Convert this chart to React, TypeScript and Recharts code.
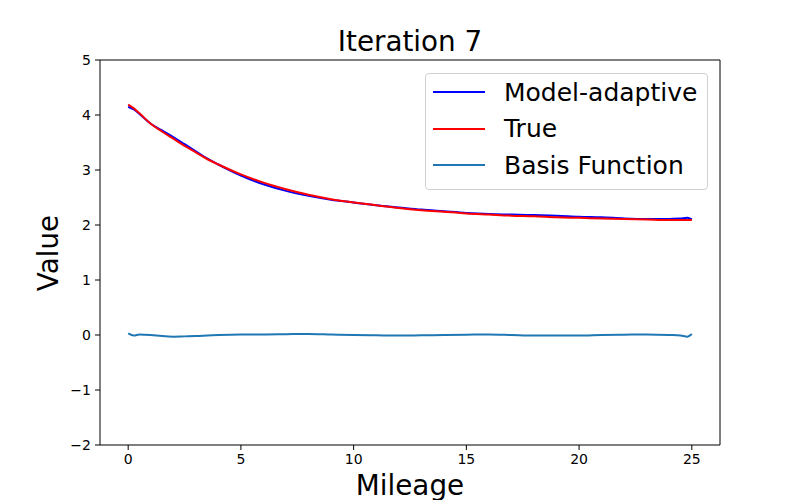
import React from 'react';
import { LineChart, Line, XAxis, YAxis, ReferenceLine, Legend } from 'recharts';

// mileage sample points
const mileage = [0, 0.25, 0.5, 1, 1.5, 2, 2.5, 3, 3.5, 4, 5, 6, 7, 8, 9, 10, 11, 12, 13, 14, 15, 16, 17, 18, 19, 20, 21, 22, 23, 24, 24.5, 24.8, 25];

const modelAdaptive = [4.15, 4.1, 4.02, 3.84, 3.72, 3.6, 3.47, 3.34, 3.21, 3.1, 2.9, 2.74, 2.62, 2.53, 2.46, 2.41, 2.36, 2.32, 2.28, 2.25, 2.22, 2.2, 2.19, 2.18, 2.17, 2.15, 2.14, 2.12, 2.11, 2.11, 2.12, 2.13, 2.1];
const trueValues = [4.19, 4.12, 4.03, 3.84, 3.7, 3.57, 3.44, 3.32, 3.2, 3.1, 2.92, 2.77, 2.65, 2.55, 2.47, 2.41, 2.36, 2.31, 2.27, 2.24, 2.21, 2.19, 2.17, 2.16, 2.14, 2.13, 2.12, 2.11, 2.1, 2.09, 2.09, 2.09, 2.09];
const basis = [0.03, -0.01, 0.01, 0.0, -0.02, -0.03, -0.025, -0.02, -0.01, 0.0, 0.01, 0.01, 0.015, 0.02, 0.01, 0.0, -0.005, -0.01, -0.005, 0.0, 0.005, 0.01, 0.0, -0.01, -0.01, -0.01, 0.0, 0.005, 0.01, 0.0, -0.01, -0.03, 0.02];

const xTicks = [0, 5, 10, 15, 20, 25];
const yTicks = [-2, -1, 0, 1, 2, 3, 4, 5];

const series = [
  { key: 'model', name: 'Model-adaptive', color: '#0000ff' },
  { key: 'truth', name: 'True', color: '#ff0000' },
  { key: 'basis', name: 'Basis Function', color: '#1f77b4' },
];

const data = mileage.map((m, i) => ({
  mileage: m,
  model: modelAdaptive[i],
  truth: trueValues[i],
  basis: basis[i],
}));

const font = '"DejaVu Sans", sans-serif';

const LegendBox = () => (
  <div
    style={{
      border: '1px solid #d0d0d0',
      borderRadius: 4,
      background: 'rgba(255,255,255,0.8)',
      width: 283,
      height: 117,
      boxSizing: 'border-box',
      paddingTop: 0,
      fontFamily: font,
      fontSize: 25,
    }}
  >
    {series.map((s) => (
      <div key={s.key} style={{ display: 'flex', alignItems: 'center', height: 36.5 }}>
        <div style={{ width: 52, height: 2, background: s.color, marginLeft: 7, marginRight: 19 }} />
        <span style={{ color: '#000' }}>{s.name}</span>
      </div>
    ))}
  </div>
);

export default function App() {
  return (
    <div style={{ position: 'absolute', left: 0, top: 0, width: 800, height: 500, background: '#fff', fontFamily: font }}>
      <div style={{ position: 'absolute', left: 0, width: 820, top: 24, textAlign: 'center', fontSize: 27.8, lineHeight: '36px' }}>
        Iteration 7
      </div>
      <div
        style={{
          position: 'absolute',
          left: 48,
          top: 253,
          transform: 'translate(-50%, -50%) rotate(-90deg)',
          fontSize: 27.8,
          whiteSpace: 'nowrap',
        }}
      >
        Value
      </div>
      <div style={{ position: 'absolute', left: 0, width: 820, top: 468, textAlign: 'center', fontSize: 27.8, lineHeight: '36px' }}>
        Mileage
      </div>
      <LineChart width={800} height={500} data={data} margin={{ top: 60, right: 80, bottom: 25, left: 60 }}>
        <XAxis
          dataKey="mileage"
          type="number"
          domain={[-1.25, 26.25]}
          ticks={xTicks}
          allowDataOverflow
          height={30}
          tickSize={5}
          tickMargin={4}
          stroke="#000"
          tick={{ fill: '#000', fontSize: 14, fontFamily: font }}
        />
        <YAxis
          type="number"
          domain={[-2, 5]}
          ticks={yTicks}
          allowDataOverflow
          width={40}
          tickSize={5}
          tickMargin={4}
          stroke="#000"
          tick={{ fill: '#000', fontSize: 14, fontFamily: font }}
          tickFormatter={(v: number) => (v < 0 ? `\u2212${Math.abs(v)}` : `${v}`)}
        />
        <ReferenceLine y={5} stroke="#000" />
        <ReferenceLine x={26.25} stroke="#000" />
        {series.map((s) => (
          <Line
            key={s.key}
            dataKey={s.key}
            name={s.name}
            type="monotone"
            stroke={s.color}
            strokeWidth={2}
            dot={false}
            isAnimationActive={false}
          />
        ))}
        <Legend
          layout="vertical"
          align="center"
          verticalAlign="middle"
          content={() => <LegendBox />}
          wrapperStyle={{ left: 425, top: 73, width: 283 }}
        />
      </LineChart>
    </div>
  );
}
